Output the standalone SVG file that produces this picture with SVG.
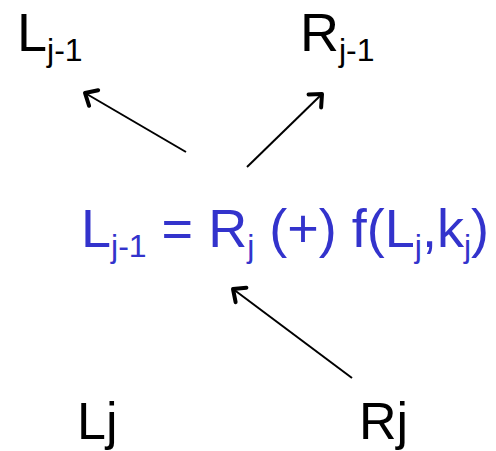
<svg xmlns="http://www.w3.org/2000/svg" width="496" height="451" viewBox="0 0 496 451">
<style>
.t{font-family:"Liberation Sans",Arial,sans-serif;font-size:54px;fill:#000}
.b{fill:#3333CC}
.s{font-size:32px}
.bt{font-size:52px}
.c{stroke:#000;stroke-width:2;fill:none}
</style>
<defs>
<marker id="ah" markerUnits="userSpaceOnUse" markerWidth="30" markerHeight="30" refX="16" refY="15" orient="auto" viewBox="0 0 30 30">
<path d="M6,6 L16,15 L6,24" fill="none" stroke="#000" stroke-width="4" stroke-linecap="round" stroke-linejoin="round"/>
</marker>
</defs>
<rect width="496" height="451" fill="#fff"/>
<g id="Ljm1"><text class="t" x="17" y="51">L<tspan class="s" dy="10">j-1</tspan></text></g>
<g id="Rjm1"><text class="t" x="300" y="51">R<tspan class="s" dy="10">j-1</tspan></text></g>
<g id="eq"><text class="t b" x="81" y="247">L<tspan class="s" dy="10">j-1</tspan><tspan dy="-10"> = R</tspan><tspan class="s" dy="10">j</tspan><tspan dy="-10"> (+) f(L</tspan><tspan class="s" dy="10">j</tspan><tspan dy="-10">,k</tspan><tspan class="s" dy="10">j</tspan><tspan dy="-10">)</tspan></text></g>
<g id="Lj"><text class="t bt" x="77" y="439">Lj</text></g>
<g id="Rj"><text class="t bt" x="359" y="439">Rj</text></g>
<g id="connectors">
<line class="c" x1="186" y1="152" x2="85" y2="93" marker-end="url(#ah)"/>
<line class="c" x1="247" y1="167" x2="322" y2="94" marker-end="url(#ah)"/>
<line class="c" x1="352" y1="378" x2="233" y2="289" marker-end="url(#ah)"/>
</g>
</svg>
